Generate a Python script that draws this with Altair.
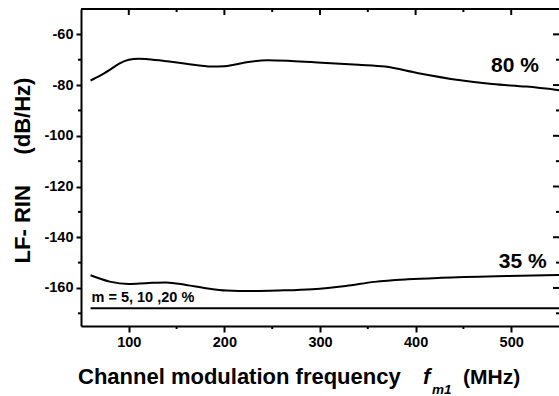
import altair as alt
import pandas as pd

# ---- data ----
freq_80 = [60, 70, 80, 90, 100, 110, 120, 140, 160, 187, 200, 210, 225, 245, 270, 302, 340, 368, 403, 445, 480, 516, 550]
rin_80 = [-78.2, -76.3, -74.0, -71.5, -70.0, -69.6, -69.8, -70.6, -71.6, -72.7, -72.6, -72.0, -70.9, -70.2, -70.5, -71.2, -72.0, -72.7, -75.3, -78.0, -79.6, -80.6, -82.0]

freq_35 = [60, 80, 100, 118, 139, 160, 181, 202, 229, 257, 292, 327, 357, 392, 427, 496, 550]
rin_35 = [-155.0, -157.5, -158.4, -158.1, -157.8, -158.8, -160.1, -161.0, -161.2, -161.0, -160.5, -159.2, -157.6, -156.6, -156.0, -155.3, -154.9]

freq_low = [60, 550]
rin_low = [-168.0, -168.0]

label_text = ["80 %", "35 %", "m = 5, 10 ,20 %"]
label_x = [504, 512, 61]
label_y = [-74.7, -152.2, -165.6]

x_major = [100, 200, 300, 400, 500]
x_minor = [150, 250, 350, 450]
y_major = [-60, -80, -100, -120, -140, -160]
y_minor = [-70, -90, -110, -130, -150, -170]

W, H = 478, 317
FONT = "Liberation Sans"

rows = []
for f, r in zip(freq_80, rin_80):
    rows.append({"f": f, "rin": r, "s": "80"})
for f, r in zip(freq_35, rin_35):
    rows.append({"f": f, "rin": r, "s": "35"})
for f, r in zip(freq_low, rin_low):
    rows.append({"f": f, "rin": r, "s": "low"})
df = pd.DataFrame(rows)

xscale = alt.Scale(domain=[50, 550], nice=False, zero=False)
yscale = alt.Scale(domain=[-175, -50], nice=False, zero=False)

xaxis = alt.Axis(
    values=x_major, title=None, grid=False, labelFont=FONT, labelFontSize=14.5,
    labelFontWeight="bold", labelColor="black", tickSize=6, tickWidth=2, tickColor="black",
    domainColor="black", domainWidth=2, labelPadding=3)
yaxis = alt.Axis(
    values=y_major, title="LF-\u00a0RIN\u00a0\u00a0\u00a0\u00a0\u00a0(dB/Hz)", grid=False,
    labelExpr="(datum.value < 0 ? '-' : '') + abs(datum.value)",
    labelFont=FONT, labelFontSize=14.5, labelFontWeight="bold", labelColor="black",
    tickSize=5, tickWidth=2, tickColor="black", domainColor="black", domainWidth=2,
    labelPadding=3, titleFont=FONT, titleFontSize=22, titleFontWeight="bold",
    titleColor="black", titleX=-59, titleY=161, titleAngle=270,
    titleAlign="center", titleBaseline="middle")

X = lambda: alt.X("f:Q", scale=xscale, axis=xaxis)
Y = lambda: alt.Y("rin:Q", scale=yscale, axis=yaxis)

lines = alt.Chart(df).mark_line(interpolate="monotone", color="black", strokeWidth=2).encode(
    x=X(), y=Y(), detail="s:N")

ldf = pd.DataFrame({"t": label_text, "f": label_x, "rin": label_y})
big_labels = alt.Chart(ldf.iloc[:2]).mark_text(
    font=FONT, fontWeight="bold", fontSize=21, align="center", baseline="alphabetic", color="black"
).encode(x=X(), y=Y(), text="t:N")
small_label = alt.Chart(ldf.iloc[2:]).mark_text(
    font=FONT, fontWeight="bold", fontSize=14.5, align="left", baseline="alphabetic", color="black"
).encode(x=X(), y=Y(), text="t:N")

one = pd.DataFrame({"a": [0]})
top_line = alt.Chart(one).mark_rule(color="black", strokeWidth=2).encode(
    x=alt.value(0), x2=alt.value(W), y=alt.value(0))

xmaj = pd.DataFrame({"f": x_major})
xmin = pd.DataFrame({"f": x_minor})
ymaj = pd.DataFrame({"rin": y_major})
ymin = pd.DataFrame({"rin": y_minor})

top_major = alt.Chart(xmaj).mark_rule(color="black", strokeWidth=2).encode(
    x=X(), y=alt.value(0), y2=alt.value(6))
top_minor = alt.Chart(xmin).mark_rule(color="black", strokeWidth=2).encode(
    x=X(), y=alt.value(0), y2=alt.value(3))
bot_minor = alt.Chart(xmin).mark_rule(color="black", strokeWidth=2).encode(
    x=X(), y=alt.value(H), y2=alt.value(H + 3))
right_major = alt.Chart(ymaj).mark_rule(color="black", strokeWidth=2).encode(
    y=Y(), x=alt.value(W - 6), x2=alt.value(W))
right_minor = alt.Chart(ymin).mark_rule(color="black", strokeWidth=2).encode(
    y=Y(), x=alt.value(W - 3), x2=alt.value(W))
left_minor = alt.Chart(ymin).mark_rule(color="black", strokeWidth=2).encode(
    y=Y(), x=alt.value(-3), x2=alt.value(0))

# x-axis title built from pieces (italic f with subscript m1)
xt1 = alt.Chart(one).mark_text(font=FONT, fontWeight="bold", fontSize=22, align="left",
                               baseline="alphabetic", color="black",
                               text="Channel modulation frequency").encode(
    x=alt.value(-3), y=alt.value(375))
xt2 = alt.Chart(one).mark_text(font=FONT, fontWeight="bold", fontStyle="italic", fontSize=22,
                               align="left", baseline="alphabetic", color="black", text="f").encode(
    x=alt.value(342), y=alt.value(375))
xt3 = alt.Chart(one).mark_text(font=FONT, fontWeight="bold", fontStyle="italic", fontSize=13.5,
                               align="left", baseline="alphabetic", color="black", text="m1").encode(
    x=alt.value(351), y=alt.value(385))
xt4 = alt.Chart(one).mark_text(font=FONT, fontWeight="bold", fontSize=21, align="left",
                               baseline="alphabetic", color="black", text="(MHz)").encode(
    x=alt.value(382), y=alt.value(375))

chart = alt.layer(
    lines, big_labels, small_label, top_line, top_major, top_minor, bot_minor,
    right_major, right_minor, left_minor, xt1, xt2, xt3, xt4
).properties(
    width=W, height=H,
    autosize=alt.AutoSizeParams(type="none"),
    padding={"left": 81, "top": 9, "right": 0, "bottom": 70},
    background="white",
).configure_view(stroke=None)

chart.save("out.html", embed_options={"renderer": "svg", "actions": False})
